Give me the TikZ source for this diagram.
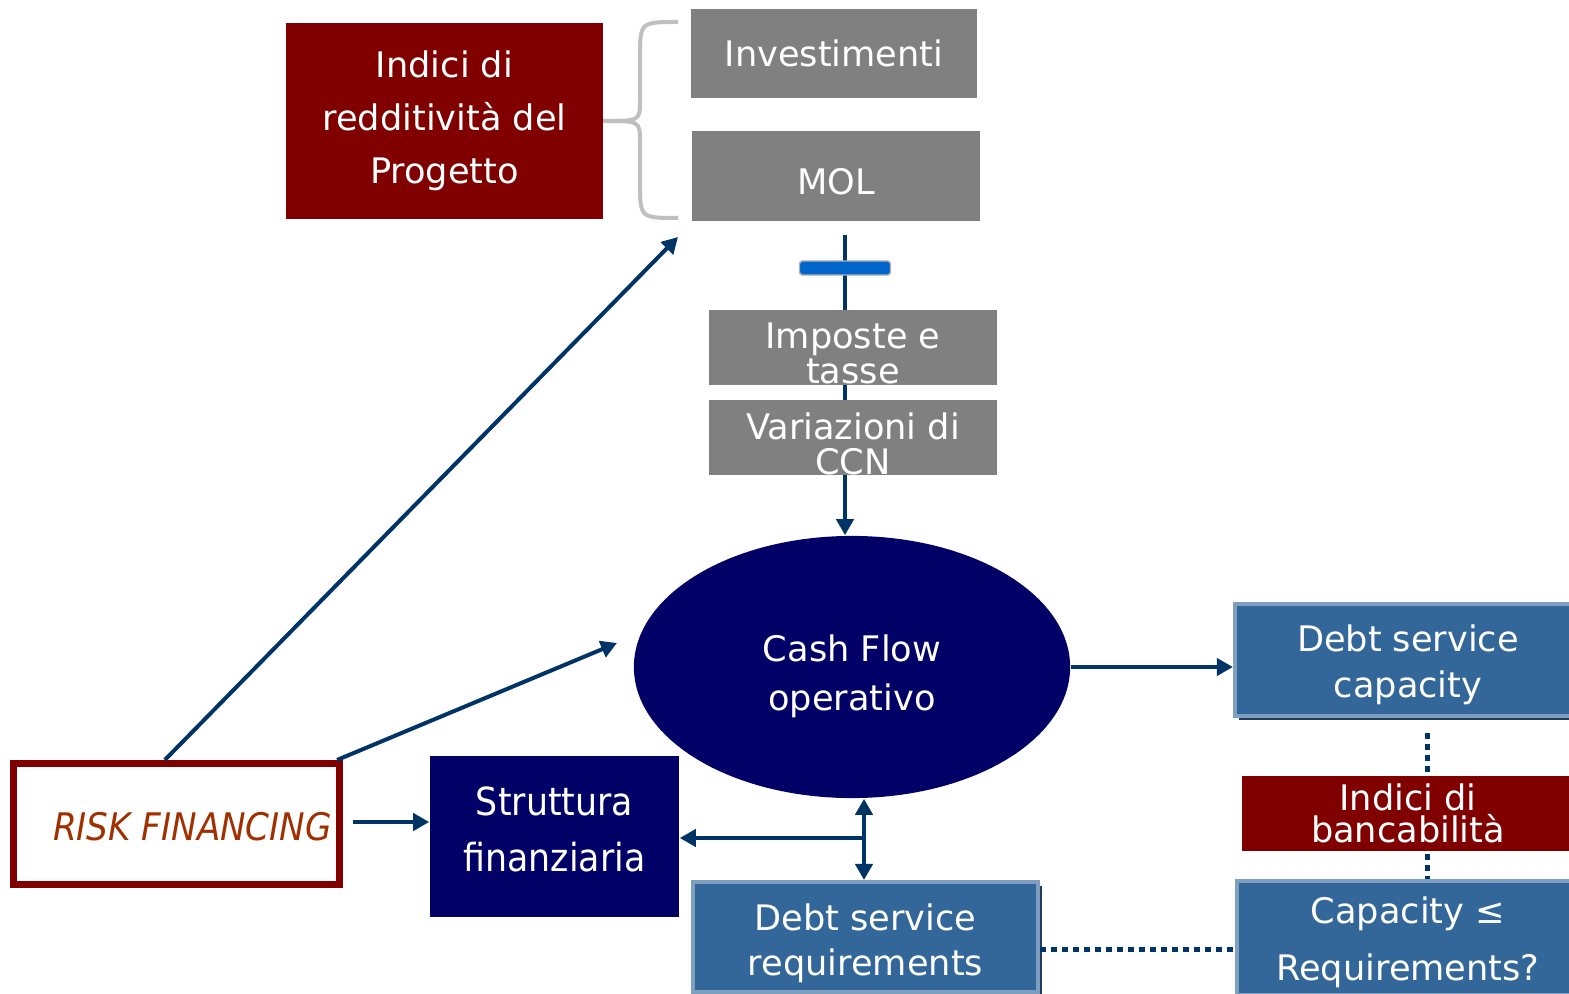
\documentclass[tikz,border=0pt]{standalone}
\usepackage{fontspec}
\setmainfont{DejaVu Sans}
\newfontfamily\condfont{DejaVu Sans Condensed}
\usetikzlibrary{arrows.meta,positioning,calc,shapes.geometric,backgrounds,shadows}
\definecolor{RedBox}{HTML}{800000}
\definecolor{GrayBox}{HTML}{808080}
\definecolor{NavyBox}{HTML}{000066}
\definecolor{SteelBox}{HTML}{336699}
\definecolor{SteelEdge}{HTML}{7F9FC0}
\definecolor{SteelShade}{HTML}{1F3D5C}
\definecolor{LineBlue}{HTML}{003366}
\definecolor{BarBlue}{HTML}{0066CC}
\definecolor{BraceGray}{HTML}{BFBFBF}
\definecolor{RiskText}{HTML}{A03000}
\newcommand{\dn}[1]{\rule{0pt}{#1}}
\tikzset{>={Triangle[length=1.6mm,width=1.7mm]},
 box/.style={rectangle,inner sep=0pt,align=center,text=white,font=\fontsize{10}{15}\selectfont},
 redbox/.style={box,fill=RedBox},graybox/.style={box,fill=GrayBox},
 navybox/.style={box,fill=NavyBox},
 steelbox/.style={box,fill=SteelBox,draw=SteelEdge,line width=0.4mm,
 drop shadow={shadow xshift=0.4mm,shadow yshift=-0.4mm,fill=SteelShade,opacity=1}},
 flow/.style={draw=LineBlue,line width=0.4mm},
 dots/.style={draw=LineBlue,line width=0.5mm,dash pattern=on 0.6mm off 0.5mm}}
\begin{document}
\begin{tikzpicture}[x=0.01cm,y=-0.01cm]
\useasboundingbox (0,0) rectangle (1569,994);
\clip (0,0) rectangle (1569,994);
% upper part
\node[redbox,minimum width=3.17cm,minimum height=1.96cm] (redd) at (444.5,121) {Indici di\\redditività del\\Progetto};
\node[graybox,minimum width=2.86cm,minimum height=0.89cm] (inv) at (834,53.5) {Investimenti};
\node[graybox,minimum width=2.88cm,minimum height=0.89cm] (mol) at (836,176) {\dn{10.5pt}MOL};
\draw[BraceGray,line width=0.04cm] (678,22) .. controls (640,22) .. (640,58) -- (640,100)
 .. controls (640,121) .. (603,121) .. controls (640,121) .. (640,142) -- (640,182)
 .. controls (640,218) .. (678,218);
\coordinate (top) at (845,235);
\node[draw=gray!60,fill=BarBlue,minimum width=0.91cm,minimum height=0.14cm,inner sep=0pt,rounded corners=0.3mm] (bar) at (845,268) {};
\node[graybox,minimum width=2.88cm,minimum height=0.75cm,font=\fontsize{10}{10}\selectfont] (imp) at (853,347.5) {\dn{10.5pt}Imposte e\\tasse};
\node[graybox,minimum width=2.88cm,minimum height=0.75cm,font=\fontsize{10}{10}\selectfont] (ccn) at (853,437.5) {\dn{11pt}Variazioni di\\CCN};
% centre
\node[ellipse,fill=NavyBox,inner sep=0pt,minimum width=4.36cm,minimum height=2.62cm,text=white,align=center,font=\fontsize{10}{14}\selectfont] (cf) at (852,667) {\dn{13pt}Cash Flow\\operativo};
\node[navybox,minimum width=2.49cm,minimum height=1.61cm,font=\condfont\fontsize{11}{16}\selectfont] (sf) at (554.5,836.5) {Struttura\\finanziaria\rule[-4pt]{0pt}{0pt}};
\node[draw=RedBox,line width=0.07cm,fill=white,minimum width=3.26cm,minimum height=1.21cm,inner sep=0pt,text=RiskText,font=\condfont\itshape\fontsize{10.8}{12}\selectfont] (risk) at (176.5,824) {\hspace*{0.32cm}\dn{9.5pt}RISK FINANCING};
\node[steelbox,minimum width=3.45cm,minimum height=1.10cm,font=\fontsize{10}{12.8}\selectfont] (dsr) at (865.5,937) {\dn{11pt}Debt service\\requirements};
% right column
\node[steelbox,minimum width=3.46cm,minimum height=1.12cm,font=\fontsize{10}{13}\selectfont] (dsc) at (1408,660) {\dn{10.5pt}Debt service\\capacity};
\node[redbox,minimum width=3.32cm,minimum height=0.75cm,font=\fontsize{10}{9}\selectfont] (banc) at (1408,813.5) {Indici di\\bancabilità};
\node[steelbox,minimum width=3.42cm,minimum height=1.13cm,font=\fontsize{10}{16}\selectfont] (cap) at (1408,938) {\dn{10pt}Capacity ≤\\Requirements?};
% connectors
\coordinate (toA) at (678,237);
\coordinate (toB) at (617,643);
\coordinate (rf) at ($(risk.east)+(10,-2)$);
\coordinate (jn) at (864,838);
\coordinate (dq) at (1040,949);
\coordinate (dv) at (1427,733);
\draw[flow,->] ($(risk.north west)!0.465!(risk.north east)$) -- (toA);
\draw[flow,->] ($(risk.north east)+(-6,0)$) -- (toB);
\draw[flow,->] (rf) -- (rf -| sf.west);
\draw[flow,->] (cf.east) -- (cf.east -| dsc.west);
\draw[flow,<->] (jn |- cf.south) -- (jn |- dsr.north);
\draw[flow,->] (jn) -- (jn -| sf.east);
\draw[dots] (dq) -- (dq -| cap.west);
\begin{scope}[on background layer]
\fill[white] (0,0) rectangle (1569,994);
\draw[flow,->] (top) -- (top |- cf.north);
\draw[dots] (dv) -- (dv |- cap.north);
\end{scope}
\end{tikzpicture}
\end{document}
